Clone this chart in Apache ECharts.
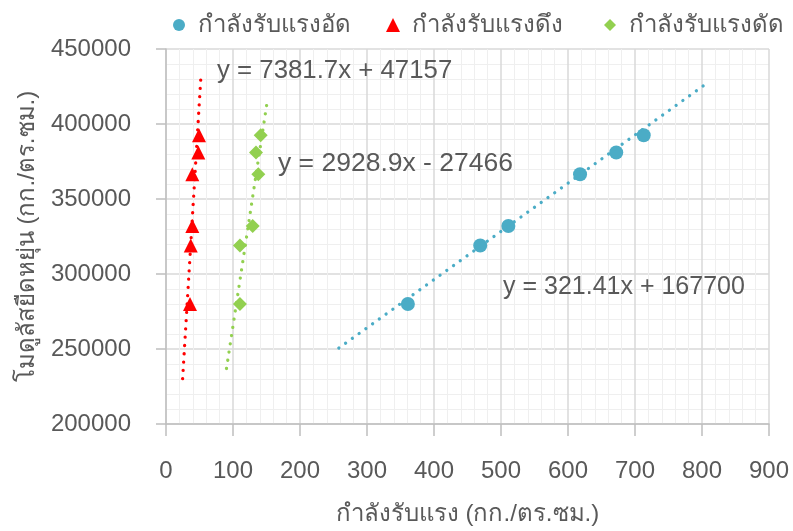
<!DOCTYPE html>
<html>
<head>
<meta charset="utf-8">
<script src="https://cdn.jsdelivr.net/npm/echarts@6/dist/echarts.min.js"></script>
<style>
  html, body { margin: 0; padding: 0; background: #ffffff; }
  #chart { width: 793px; height: 531px; }
</style>
</head>
<body>
<div id="chart"></div>
<script>
// ---- data ----
const seriesNames = ['กำลังรับแรงอัด', 'กำลังรับแรงดึง', 'กำลังรับแรงดัด'];
const modulus = [280000, 319000, 332000, 366500, 381000, 392500];
const compressive = [361, 469, 511, 618, 672, 713];
const tensile = [35.8, 36.9, 39.3, 39.3, 48.2, 49.3];
const flexural = [110.4, 110.4, 129.4, 137.8, 134.3, 141.3];
const trendSlope = [321.41, 7381.7, 2928.9];
const trendIntercept = [167700, 47157, -27466];
const trendFrom = [258, 24.8, 90.3];
const trendTo = [809, 52.3, 151];
const trendLabels = ['y = 321.41x + 167700', 'y = 7381.7x + 47157', 'y = 2928.9x - 27466'];
const xTicks = { min: 0, max: 900, interval: 100 };
const yTicks = { min: 200000, max: 450000, interval: 50000 };
const xTitle = 'กำลังรับแรง (กก./ตร.ซม.)';
const yTitle = 'โมดูลัสยืดหยุ่น (กก./ตร.ซม.)';

// ---- styling ----
const colors = ['#4BACC6', '#FF0000', '#92D050'];
const symbols = ['circle', 'triangle', 'diamond'];
const textColor = '#595959';
const numFont = '"Liberation Sans", Arial, sans-serif';
const thaiFont = '"Liberation Sans", "Noto Sans", sans-serif';

const xValues = [compressive, tensile, flexural];

const scatterSeries = xValues.map((xs, i) => ({
  name: seriesNames[i],
  type: 'scatter',
  symbol: symbols[i],
  symbolSize: 14,
  itemStyle: { color: colors[i], opacity: 1 },
  z: 3,
  data: xs.map((x, k) => [x, modulus[k]])
}));

const trendSeries = trendSlope.map((m, i) => ({
  name: seriesNames[i] + '-trend',
  type: 'line',
  symbol: 'none',
  silent: true,
  z: 4,
  lineStyle: { color: colors[i], width: 3.3, type: [0.01, 8.3], cap: 'round' },
  data: [trendFrom[i], trendTo[i]].map(x => [x, m * x + trendIntercept[i]])
}));

// legend: one component per item so its place matches the reference
const legendLefts = [168, 382, 599];
const legendIconSize = [12, 14, 12];
const legends = seriesNames.map((n, i) => ({
  data: [{ name: n, icon: symbols[i] }],
  left: legendLefts[i] - (legendIconSize[i] - 12) / 2,
  top: 8,
  itemWidth: legendIconSize[i],
  itemHeight: legendIconSize[i],
  itemGap: 0,
  textStyle: { fontSize: 24, color: textColor, fontFamily: thaiFont, padding: [0, 0, 0, 8 - (legendIconSize[i] - 12) / 2] }
}));

const labelPos = [
  { left: 503, y: 287, size: 25 },
  { left: 217, y: 71, size: 25.8 },
  { left: 278, y: 163, size: 26.5 }
];

const chart = echarts.init(document.getElementById('chart'), null, { renderer: 'canvas' });
chart.setOption({
  animation: false,
  backgroundColor: '#ffffff',
  grid: { left: 166, right: 24, top: 49, bottom: 103, containLabel: false },
  legend: legends,
  xAxis: {
    type: 'value',
    min: xTicks.min, max: xTicks.max, interval: xTicks.interval,
    name: xTitle,
    nameLocation: 'middle',
    nameGap: 78,
    nameTextStyle: { fontSize: 24, color: textColor, fontFamily: thaiFont },
    axisLine: { show: true, lineStyle: { color: '#bfbfbf', width: 1.5 } },
    axisTick: { show: true, length: 12, lineStyle: { color: '#bfbfbf', width: 1.5 } },
    axisLabel: { fontSize: 24, color: textColor, fontFamily: numFont, margin: 35, formatter: v => String(v) },
    splitLine: { show: true, lineStyle: { color: '#d9d9d9', width: 1.5 } },
    minorTick: { show: false, splitNumber: 5 },
    minorSplitLine: { show: true, lineStyle: { color: '#efefef', width: 1 } }
  },
  yAxis: {
    type: 'value',
    min: yTicks.min, max: yTicks.max, interval: yTicks.interval,
    name: yTitle,
    nameLocation: 'middle',
    nameGap: 127,
    nameRotate: 90,
    nameTextStyle: { fontSize: 24, color: textColor, fontFamily: thaiFont },
    axisLine: { show: true, lineStyle: { color: '#bfbfbf', width: 1.5 } },
    axisTick: { show: true, length: 10, lineStyle: { color: '#bfbfbf', width: 1.5 } },
    axisLabel: { fontSize: 24, color: textColor, fontFamily: numFont, margin: 35, formatter: v => String(v) },
    splitLine: { show: true, lineStyle: { color: '#d9d9d9', width: 1.5 } },
    minorTick: { show: false, splitNumber: 5 },
    minorSplitLine: { show: true, lineStyle: { color: '#efefef', width: 1 } }
  },
  graphic: trendLabels.map((t, i) => ({
    type: 'text',
    left: labelPos[i].left,
    top: labelPos[i].y - labelPos[i].size / 2,
    z: 10,
    style: { text: t, fill: textColor, fontSize: labelPos[i].size, fontFamily: numFont }
  })),
  series: scatterSeries.concat(trendSeries)
});
</script>
</body>
</html>
